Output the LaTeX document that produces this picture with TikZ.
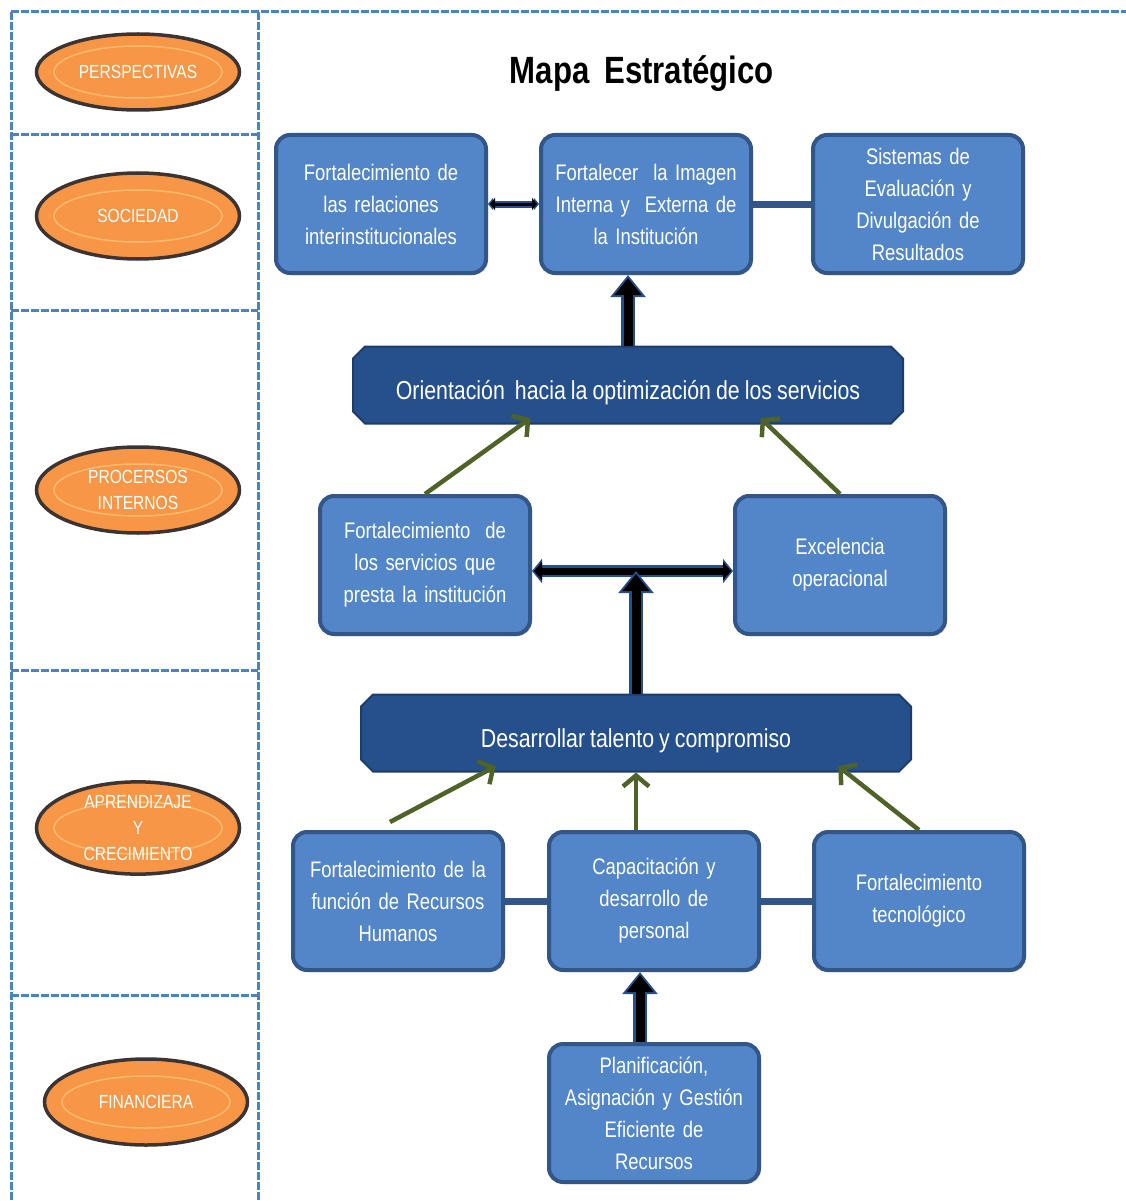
\documentclass[tikz,border=0pt]{standalone}
\usepackage{xcolor}
\usepackage{fontspec}
\usepackage{tikz}
\usetikzlibrary{positioning,calc,shapes.geometric,shapes.misc,arrows.meta,shadows}
\setmainfont{Liberation Sans}[FakeStretch=0.82, WordSpace=0.85]
\definecolor{mapblue}{RGB}{82,134,200}
\definecolor{mapedge}{RGB}{50,86,135}
\definecolor{mapdark}{RGB}{38,80,140}
\definecolor{mapdarkedge}{RGB}{28,60,108}
\definecolor{mapgreen}{RGB}{79,98,40}
\definecolor{maporange}{RGB}{247,150,70}
\definecolor{mapglow}{RGB}{252,196,120}
\definecolor{maprim}{RGB}{60,52,50}
\definecolor{mapdash}{RGB}{79,129,189}

\begin{document}
\begin{tikzpicture}[x=1pt, y=-1pt,
    objbox/.style={draw=mapedge, line width=4pt, rounded corners=14pt, fill=mapblue, text=white,
        minimum width=210pt, minimum height=138pt, text width=196pt, align=center,
        font=\fontsize{22.5}{32}\selectfont,
        drop shadow={opacity=0.3, shadow xshift=2pt, shadow yshift=-2pt}},
    themebar/.style={chamfered rectangle, chamfered rectangle xsep=6pt, chamfered rectangle ysep=6pt,
        draw=mapdarkedge, line width=2pt, fill=mapdark, text=white,
        minimum width=550pt, minimum height=77pt, text height=29pt, text depth=0pt,
        font=\fontsize{26}{30}\selectfont},
    oval/.style={ellipse, fill=maporange, draw=maprim, line width=3.5pt, text=white,
        minimum width=203pt, minimum height=86pt, inner sep=0pt, align=center,
        font=\fontsize{19}{26}\selectfont,
        path picture={\draw[mapglow, line width=1.5pt, opacity=0.8]
            (path picture bounding box.center) ellipse [x radius=84pt, y radius=26pt];}},
    frameline/.style={draw=mapdash, line width=3pt, dash pattern=on 8pt off 2pt},
    goal/.style={draw=mapgreen, line width=4.5pt, -{Straight Barb[length=11pt,width=26pt]}},
    link/.style={draw=mapedge, line width=7pt},
    bigarrow/.style={line width=14pt, draw=mapdark, -{Triangle[length=22pt,width=34pt]},
        postaction={draw=black, line width=9pt, -{Triangle[length=17pt,width=26pt]}, shorten >=3pt}},
    bigdouble/.style={line width=12pt, draw=mapdark, {Triangle[length=10pt,width=24pt]}-{Triangle[length=10pt,width=24pt]},
        postaction={draw=black, line width=7pt, {Triangle[length=8pt,width=18pt]}-{Triangle[length=8pt,width=18pt]}, shorten >=2pt, shorten <=2pt}},
    thinlink/.style={line width=7pt, draw=mapdark, {Triangle[length=5pt,width=12pt]}-{Triangle[length=5pt,width=12pt]},
        postaction={draw=black, line width=3pt, shorten >=2pt, shorten <=2pt}}]
    \useasboundingbox (0,0) rectangle (1126,1201);

    % Perspective column
    \draw[frameline] (11,12) -- (1126,12);
    \draw[frameline] (11,12) -- (11,1201);
    \draw[frameline] (258,12) -- (258,1201);
    \foreach \y in {135,310,670,995}
        \draw[frameline] (11,\y) -- (258,\y);

    \node[oval, minimum height=76pt] (persp) at (138,72) {PERSPECTIVAS};
    \node[oval] (soc) at (138,216) {SOCIEDAD};
    \node[oval] (proc) at (138,490) {PROCERSOS\\INTERNOS};
    \node[oval] (apr) at (138,828) {APRENDIZAJE\\Y\\CRECIMIENTO};
    \node[oval] (fin) at (146,1102) {FINANCIERA};

    \node[font=\bfseries\fontsize{38}{40}\selectfont] (title) at (642,74) {Mapa\ \ Estratégico};

    % Main components
    \node[objbox] (rel) at (381,204) {Fortalecimiento de\\las relaciones\\interinstitucionales};
    \node[objbox, right=51pt of rel] (imagen) {Fortalecer\ \ la Imagen\\Interna y\ \ Externa de\\la Institución};
    \node[objbox, right=58pt of imagen] (eval) {Sistemas de\\Evaluación y\\Divulgación de\\Resultados};

    \node[themebar] (orient) at (628,385) {Orientación\ \ hacia la optimización de los servicios};

    \node[objbox] (serv) at (425,565) {Fortalecimiento\ \ de\\los servicios que\\presta la institución};
    \node[objbox, right=201pt of serv] (excel) {Excelencia\\operacional};

    \node[themebar] (talento) at (636,733) {Desarrollar talento y compromiso};

    \node[objbox] (rrhh) at (398,901) {Fortalecimiento de la\\función de Recursos\\Humanos};
    \node[objbox, right=42pt of rrhh] (capac) {Capacitación y\\desarrollo de\\personal};
    \node[objbox, right=51pt of capac] (tecno) {Fortalecimiento\\tecnológico};
    \node[objbox, below=70pt of capac] (plan) {Planificación,\\Asignación y Gestión\\Eficiente de\\Recursos};

    % Connections
    \draw[thinlink] (rel) -- (imagen);
    \draw[link] (imagen) -- (eval);
    \draw[bigarrow] (orient.north) -- (orient.north |- imagen.south);

    \draw[goal] (serv.north) -- ($(orient.south west)!0.319!(orient.south east)$);
    \draw[goal] (excel.north) -- ($(orient.south west)!0.746!(orient.south east)$);

    \coordinate (hub) at ($([yshift=-6pt]serv.east)!0.5!([yshift=-6pt]excel.west)$);
    \draw[bigdouble] ([yshift=-6pt]serv.east) -- ([yshift=-6pt]excel.west);
    \draw[bigarrow] (talento.north) -- (talento.north |- hub);

    \draw[goal] ([xshift=-8pt,yshift=8pt]rrhh.north) -- ($(talento.south west)!0.24!(talento.south east)$);
    \draw[goal] (talento.south |- capac.north) -- (talento.south);
    \draw[goal] (tecno.north) -- ($(talento.south west)!0.875!(talento.south east)$);

    \draw[link] (rrhh) -- (capac);
    \draw[link] (capac) -- (tecno);
    \draw[bigarrow] ([xshift=-14pt]plan.north) -- ([xshift=-14pt]capac.south);
\end{tikzpicture}
\end{document}
